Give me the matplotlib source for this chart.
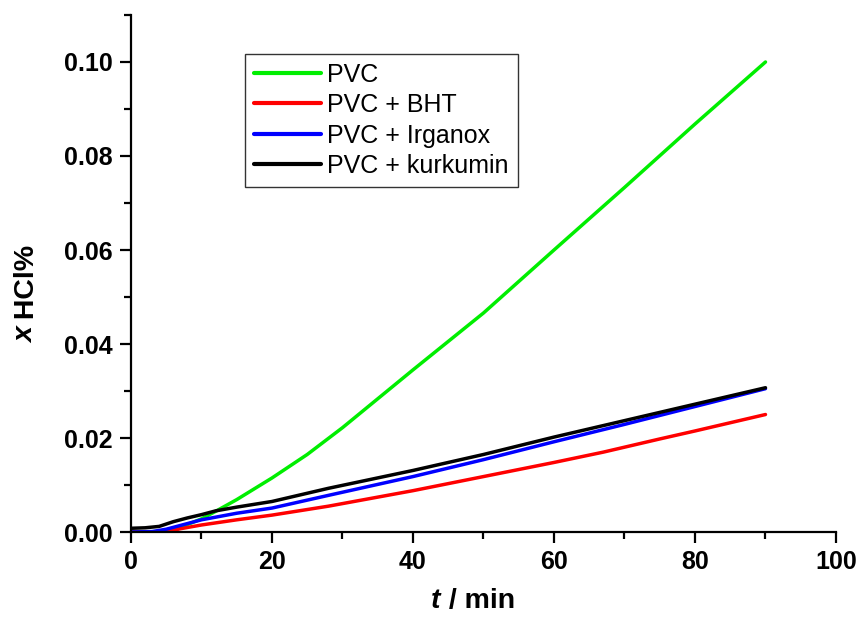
import matplotlib.pyplot as plt
from matplotlib.ticker import MultipleLocator, FormatStrFormatter

plt.rcParams['font.family'] = ['Liberation Sans', 'DejaVu Sans']

# values (t in min, x HCl in %)
t_pvc = [0, 4, 6, 8, 10, 12, 15, 20, 25, 30, 40, 50, 60, 70, 80, 90]
y_pvc = [0, 0.0001, 0.0007, 0.0016, 0.0028, 0.0044, 0.0069, 0.0115, 0.0165,
         0.0222, 0.0345, 0.0466, 0.0600, 0.0733, 0.0868, 0.1000]

t_bht = [0, 5, 7, 10, 15, 20, 28, 40, 50, 60, 67, 75, 80, 90]
y_bht = [0, 0.0, 0.0007, 0.0015, 0.0026, 0.0036, 0.0055, 0.0088, 0.0118,
         0.0148, 0.0170, 0.0198, 0.0215, 0.0250]

t_irg = [0, 3, 5, 8, 10, 15, 20, 28, 40, 50, 60, 70, 80, 90]
y_irg = [0, 0.0001, 0.0006, 0.0018, 0.0026, 0.0040, 0.0051, 0.0078, 0.0118,
         0.0154, 0.0192, 0.0229, 0.0267, 0.0305]

t_kur = [0, 2, 4, 6, 8, 10, 12, 15, 20, 28, 40, 50, 60, 70, 80, 90]
y_kur = [0.0008, 0.0009, 0.0012, 0.0022, 0.0030, 0.0037, 0.0045, 0.0053,
         0.0065, 0.0093, 0.0131, 0.0165, 0.0202, 0.0237, 0.0272, 0.0307]

labels = ['PVC', 'PVC + BHT', 'PVC + Irganox', 'PVC + kurkumin']
colors = ['#00ee00', '#ff0000', '#0000ff', '#000000']

fig = plt.figure(figsize=(8.59, 6.19), dpi=100)
ax = fig.add_axes([0.1525, 0.1405, 0.8207, 0.8353])

for t, y, lab, c in zip([t_pvc, t_bht, t_irg, t_kur],
                        [y_pvc, y_bht, y_irg, y_kur], labels, colors):
    ax.plot(t, y, color=c, lw=2.5, label=lab, solid_capstyle='round')

ax.set_xlim(0, 100)
ax.set_ylim(0, 0.11)
ax.xaxis.set_major_locator(MultipleLocator(20))
ax.xaxis.set_minor_locator(MultipleLocator(10))
ax.yaxis.set_major_locator(MultipleLocator(0.02))
ax.yaxis.set_minor_locator(MultipleLocator(0.01))
ax.yaxis.set_major_formatter(FormatStrFormatter('%.2f'))

ax.spines['top'].set_visible(False)
ax.spines['right'].set_visible(False)
for s in ['left', 'bottom']:
    ax.spines[s].set_linewidth(1.6)
ax.tick_params(which='major', length=8, width=1.6, labelsize=18, pad=5)
ax.tick_params(which='minor', length=5, width=1.6)
for lbl in ax.get_xticklabels() + ax.get_yticklabels():
    lbl.set_fontweight('bold')

# axis titles with italic symbol
fig.text(0.513, 0.018, 't', fontsize=20.5, fontweight='bold', style='italic',
         ha='right', va='baseline')
fig.text(0.513, 0.018, ' / min', fontsize=20.5, fontweight='bold',
         ha='left', va='baseline')
fig.text(0.039, 0.472, 'x', fontsize=20.5, fontweight='bold', style='italic',
         rotation=90, va='baseline', ha='right', rotation_mode='anchor')
fig.text(0.039, 0.472, ' HCl%', fontsize=20.5, fontweight='bold',
         rotation=90, va='baseline', ha='left', rotation_mode='anchor')

leg = ax.legend(loc='upper left', bbox_to_anchor=(0.1617, 0.9246),
                borderaxespad=0, fontsize=18, frameon=True, fancybox=False,
                edgecolor='black', handlelength=2.7, handletextpad=0.25,
                labelspacing=0.26, borderpad=0.35)
leg.get_frame().set_linewidth(1.0)
for h in leg.get_lines():
    h.set_linewidth(3)

fig.savefig('out.png', dpi=100)
